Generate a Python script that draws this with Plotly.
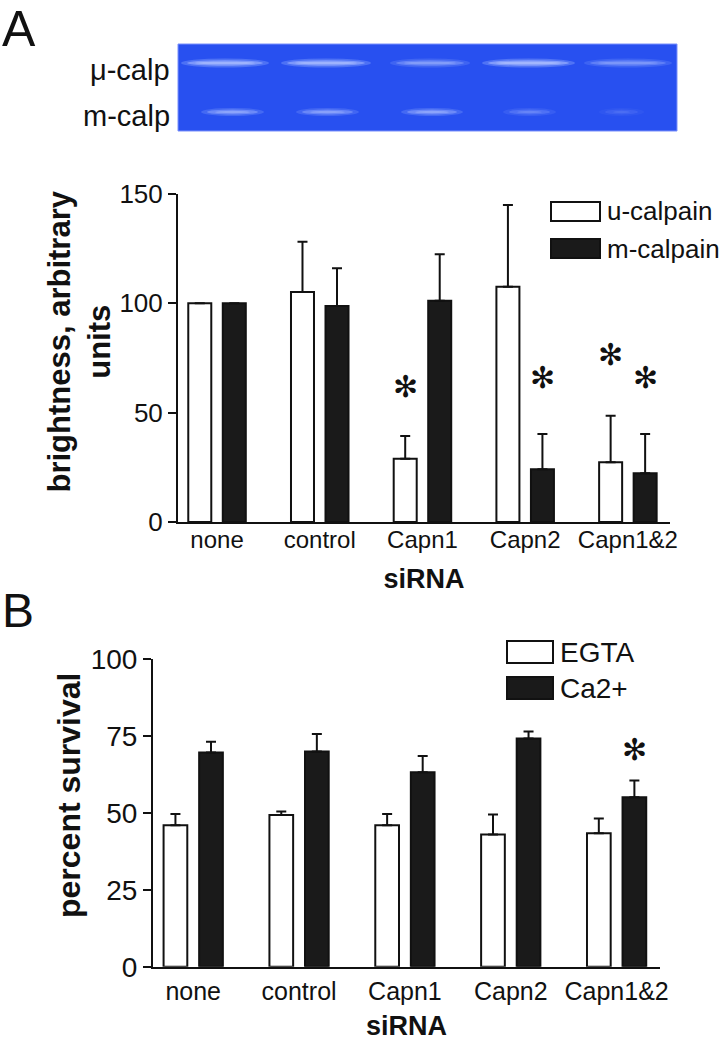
import plotly.graph_objects as go

# ---------------- data ----------------
categories = ["none", "control", "Capn1", "Capn2", "Capn1&2"]

# Panel A: calpain band brightness (arbitrary units)
seriesA_names = ["u-calpain", "m-calpain"]
u_calpain = [100, 105.2, 28.9, 107.6, 27.3]
u_calpain_err = [0, 23.0, 10.4, 37.4, 21.3]
m_calpain = [100, 98.8, 101.2, 24.1, 22.3]
m_calpain_err = [0, 17.3, 21.3, 16.1, 17.9]
# significance markers (category, series index, label height)
sigA = [("Capn1", 0, 62), ("Capn2", 1, 66), ("Capn1&2", 0, 76.5), ("Capn1&2", 1, 66)]

# Panel B: percent survival
seriesB_names = ["EGTA", "Ca2+"]
egta = [46.0, 49.3, 46.0, 43.0, 43.4]
egta_err = [3.6, 1.1, 3.6, 6.5, 4.8]
ca2 = [69.6, 69.9, 63.2, 74.2, 55.1]
ca2_err = [3.5, 5.7, 5.3, 2.2, 5.4]
sigB = [("Capn1&2", 1, 70.5)]

# gel lanes (one per siRNA condition) and relative band strengths
gel_labels = ["\u03bc-calp", "m-calp"]
gel_upper = [0.85, 0.85, 0.55, 0.90, 0.50]
gel_lower = [0.65, 0.60, 0.65, 0.35, 0.18]

# ---------------- layout helpers ----------------
W, H = 723, 1050
FONT = "Liberation Sans, Arial, Helvetica, sans-serif"


def px(x):
    return x / W


def py(y):
    return 1 - y / H


BAR_W = 0.224
OFF = [-0.28, 0.056]          # offsets of the two bars in a group
XR = [-0.38, 4.41]

fig = go.Figure()


def add_bars(vals, errs, name, fill, xa, ya, k):
    fig.add_trace(go.Bar(
        x=categories, y=vals, name=name, xaxis=xa, yaxis=ya,
        offset=OFF[k], width=BAR_W,
        marker=dict(color=fill, line=dict(color="#111111", width=2)),
        error_y=dict(type="data", symmetric=False, array=errs,
                     arrayminus=[0] * len(errs), color="#111111",
                     thickness=2, width=5),
        showlegend=False,
    ))


add_bars(u_calpain, u_calpain_err, seriesA_names[0], "white", "x", "y", 0)
add_bars(m_calpain, m_calpain_err, seriesA_names[1], "#1a1a1a", "x", "y", 1)
add_bars(egta, egta_err, seriesB_names[0], "white", "x2", "y2", 0)
add_bars(ca2, ca2_err, seriesB_names[1], "#1a1a1a", "x2", "y2", 1)

axis_common = dict(showline=True, linewidth=2, linecolor="#111111",
                   showgrid=False, zeroline=False, mirror=False,
                   automargin=False)

fig.update_layout(
    template="none",
    width=W, height=H,
    margin=dict(l=0, r=0, t=0, b=0, autoexpand=False),
    paper_bgcolor="white", plot_bgcolor="white",
    barmode="overlay",
    font=dict(family=FONT, color="#111111"),
    xaxis=dict(domain=[px(178), px(670)], anchor="y", range=XR,
               ticks="", tickfont=dict(size=24), ticklabelstandoff=-5,
               title=dict(text="<b>siRNA</b>", font=dict(size=27), standoff=17),
               **axis_common),
    yaxis=dict(domain=[py(522), py(194)], anchor="x", range=[0, 150],
               tickvals=[0, 50, 100, 150], ticks="outside", ticklen=8,
               tickwidth=2, tickcolor="#111111", tickfont=dict(size=26),
               **axis_common),
    xaxis2=dict(domain=[px(153), px(660)], anchor="y2", range=XR,
                ticks="", tickfont=dict(size=25), ticklabelstandoff=1,
                title=dict(text="<b>siRNA</b>", font=dict(size=27), standoff=12),
                **axis_common),
    yaxis2=dict(domain=[py(966.7), py(659)], anchor="x2", range=[0, 100],
                tickvals=[0, 25, 50, 75, 100], ticks="outside", ticklen=8,
                tickwidth=2, tickcolor="#111111", tickfont=dict(size=28),
                **axis_common),
)

ann = []
shapes = []

# y-axis titles
ann.append(dict(text="<b>brightness, arbitrary<br>units</b>", x=px(79), y=py(341.5),
                xref="paper", yref="paper", textangle=-90, showarrow=False,
                font=dict(size=31), xanchor="center", yanchor="middle"))
ann.append(dict(text="<b>percent survival</b>", x=px(69), y=py(796),
                xref="paper", yref="paper", textangle=-90, showarrow=False,
                font=dict(size=32), xanchor="center", yanchor="middle"))

# panel letters
ann.append(dict(text="A", x=px(0), y=py(29), xref="paper", yref="paper",
                showarrow=False, xanchor="left", yanchor="middle",
                font=dict(size=50)))
ann.append(dict(text="B", x=px(0), y=py(610), xref="paper", yref="paper",
                showarrow=False, xanchor="left", yanchor="middle",
                font=dict(size=48)))

# significance asterisks
for cat, k, yv in sigA:
    i = categories.index(cat)
    ann.append(dict(text="\u273b", x=i + OFF[k] + BAR_W / 2, y=yv, xref="x", yref="y",
                    showarrow=False, font=dict(size=30, family="DejaVu Sans"),
                    xanchor="center", yanchor="middle"))
for cat, k, yv in sigB:
    i = categories.index(cat)
    ann.append(dict(text="\u273b", x=i + OFF[k] + BAR_W / 2, y=yv, xref="x2", yref="y2",
                    showarrow=False, font=dict(size=30, family="DejaVu Sans"),
                    xanchor="center", yanchor="middle"))


# manual legends
def legend(names, x0, x1, boxes, tx, fsize):
    fills = ["white", "#1a1a1a"]
    for k, (name, (y0, y1)) in enumerate(zip(names, boxes)):
        shapes.append(dict(type="rect", xref="paper", yref="paper",
                           x0=px(x0), x1=px(x1), y0=py(y1), y1=py(y0),
                           fillcolor=fills[k], line=dict(color="#111111", width=2)))
        ann.append(dict(text=name, x=px(tx), y=py((y0 + y1) / 2), xref="paper",
                        yref="paper", showarrow=False, xanchor="left",
                        yanchor="middle", font=dict(size=fsize)))


legend(seriesA_names, 551, 600, [(202, 221), (239, 258)], 605, 26)
legend(seriesB_names, 507, 553, [(641, 663), (677, 699)], 558, 28)

# ---------------- gel picture ----------------
shapes.append(dict(type="rect", xref="paper", yref="paper", layer="below",
                   x0=px(178), x1=px(677), y0=py(131), y1=py(44),
                   fillcolor="#2850f0", line=dict(color="#7a90fb", width=1)))
upper_ext = [(185, 265), (285, 367), (394, 466), (486, 571), (588, 668)]
lower_ext = [(205, 260), (300, 355), (405, 459), (507, 552), (603, 640)]


def band(x0, x1, yc, a, thick):
    # soft diffuse band: halo ellipse + bright core ellipse
    shapes.append(dict(type="circle", xref="paper", yref="paper",
                       x0=px(x0 - 4), x1=px(x1 + 4), y0=py(yc + thick), y1=py(yc - thick),
                       fillcolor=f"rgba(120,150,250,{a * 0.55:.2f})", line=dict(width=0)))
    shapes.append(dict(type="circle", xref="paper", yref="paper",
                       x0=px(x0 + 2), x1=px(x1 - 2), y0=py(yc + thick * 0.6),
                       y1=py(yc - thick * 0.6),
                       fillcolor=f"rgba(160,180,255,{a * 0.7:.2f})", line=dict(width=0)))
    shapes.append(dict(type="circle", xref="paper", yref="paper",
                       x0=px(x0 + 10), x1=px(x1 - 10), y0=py(yc + thick * 0.3),
                       y1=py(yc - thick * 0.3),
                       fillcolor=f"rgba(190,205,255,{a * 0.6:.2f})", line=dict(width=0)))


for (x0, x1), a in zip(upper_ext, gel_upper):
    band(x0, x1, 63, a, 4.5)
for (x0, x1), a in zip(lower_ext, gel_lower):
    band(x0, x1, 112, a, 4)

ann.append(dict(text=gel_labels[0], x=px(172), y=py(70), xref="paper", yref="paper",
                showarrow=False, xanchor="right", yanchor="middle", font=dict(size=29)))
ann.append(dict(text=gel_labels[1], x=px(172), y=py(116), xref="paper", yref="paper",
                showarrow=False, xanchor="right", yanchor="middle", font=dict(size=29)))

fig.update_layout(annotations=ann, shapes=shapes)
fig.write_html("out.html", config={"displayModeBar": False},
               post_script="document.body.style.margin='0';document.body.style.padding='0';")
